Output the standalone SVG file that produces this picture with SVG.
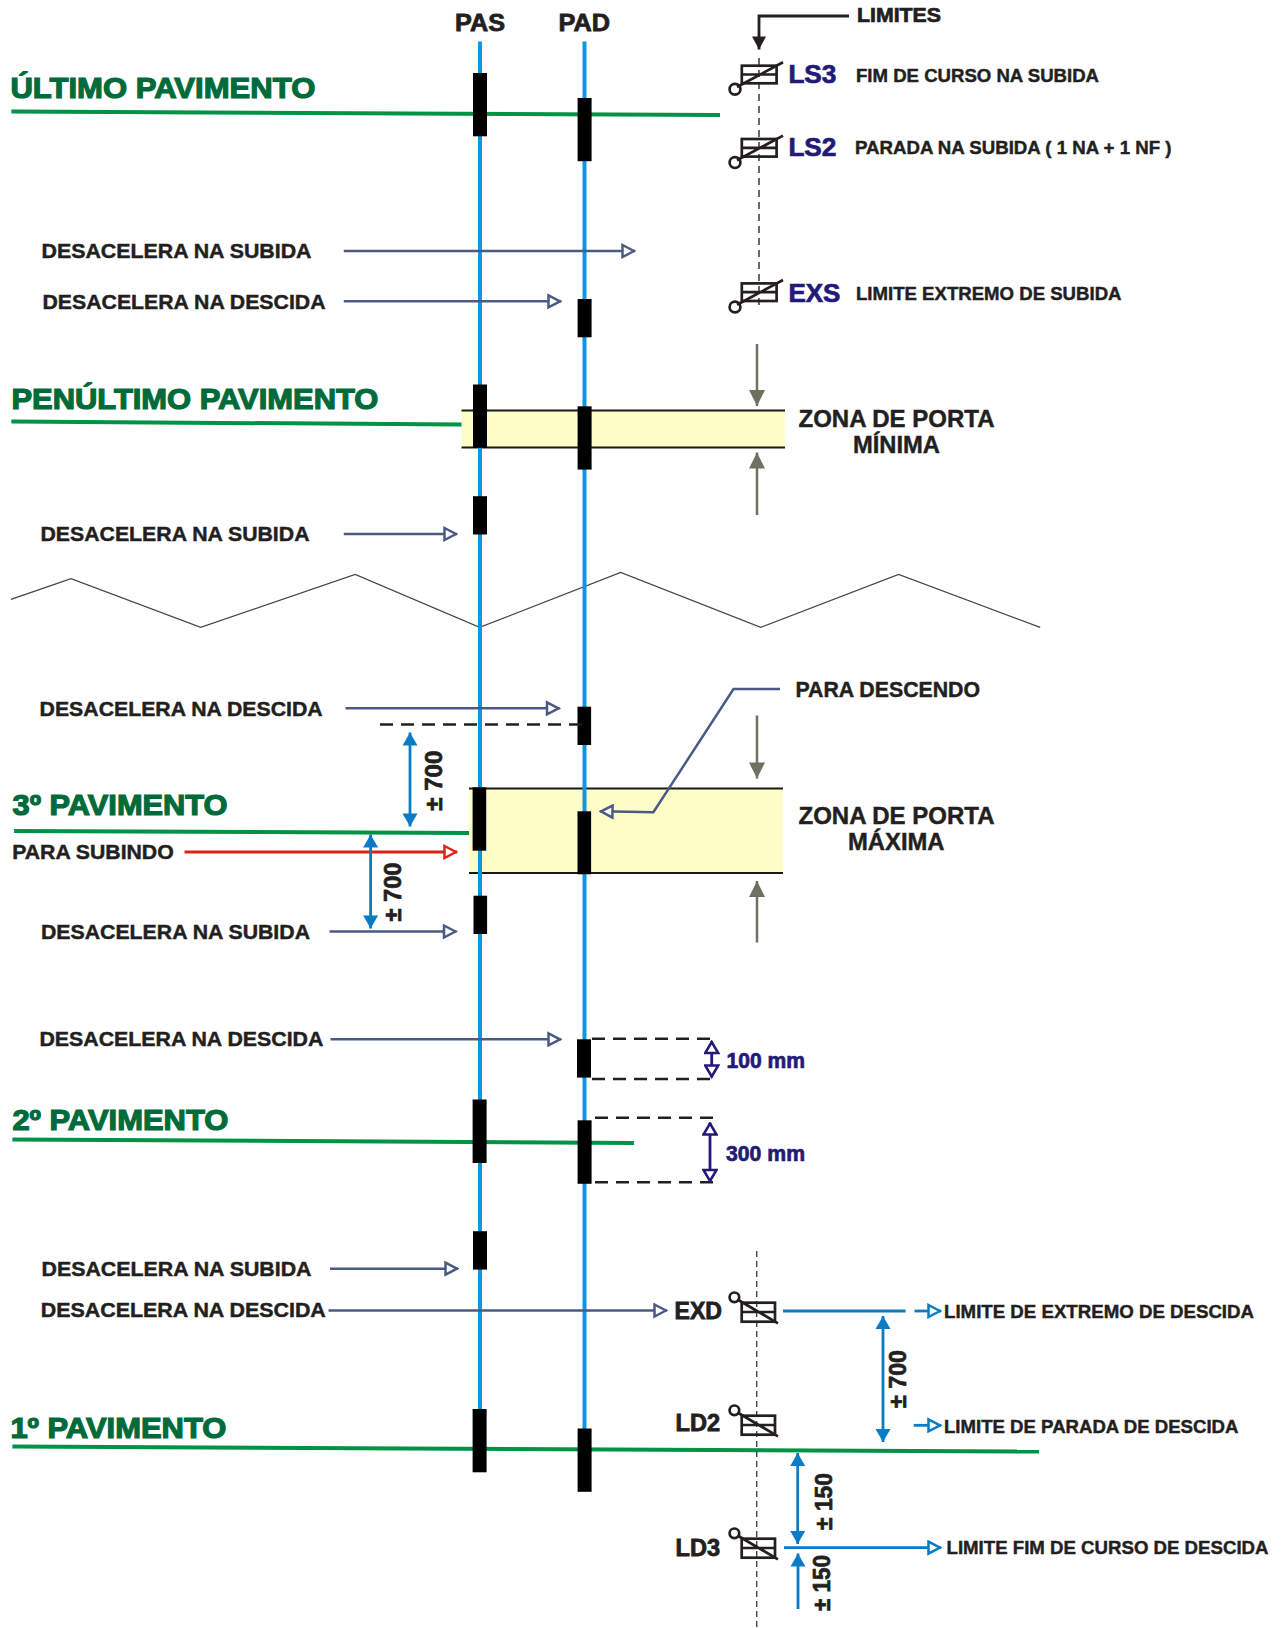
<svg xmlns="http://www.w3.org/2000/svg" width="1286" height="1628" viewBox="0 0 1286 1628">
<style>
text{font-family:"Liberation Sans",Arial,sans-serif;font-weight:700;fill:#231F20;stroke:#231F20;stroke-width:.45}
.g{fill:#006B3A;stroke:#006B3A;stroke-width:1.2;font-size:29px}
.n{fill:#231A78;stroke:#231A78;stroke-width:.7}
.t20{font-size:21px}.t18{font-size:19px}.t23{font-size:24px}
.floor{stroke:#009245;stroke-width:4;fill:none}
.rail{stroke:#0C98E0;stroke-width:4;fill:none}
.bar{fill:#000}
.zone{fill:#FEFDC8}
.zb{stroke:#1A1A1A;stroke-width:2.2;fill:none}
.a{stroke:#4A5A85;stroke-width:2.5;fill:none;marker-end:url(#oGray)}
.r{stroke:#E0201B;stroke-width:2.8;fill:none;marker-end:url(#oRed)}
.b{stroke:#0A7CC4;stroke-width:2.8;fill:none}
.bd{marker-start:url(#fBlueS);marker-end:url(#fBlue)}
.bo{marker-end:url(#oBlue)}
.v{stroke:#6B7260;stroke-width:2.5;fill:none;marker-end:url(#fOlive)}
.d{stroke:#231F20;stroke-width:2.6;stroke-dasharray:13 8;fill:none}
.dv{stroke:#444;stroke-width:1.6;stroke-dasharray:7 5;fill:none}
.nv{stroke:#231A78;stroke-width:2.8;fill:none;marker-start:url(#oNavyS);marker-end:url(#oNavy)}
.sw{stroke:#231F20;stroke-width:2.7;fill:none}
</style>
<defs>
<marker id="oGray" viewBox="0 0 16 16" markerWidth="16" markerHeight="16" refX="15" refY="8" orient="auto" markerUnits="userSpaceOnUse"><path d="M2.5 2L14 8L2.5 14Z" fill="#fff" stroke="#4A5A85" stroke-width="2.5"/></marker>
<marker id="oRed" viewBox="0 0 16 16" markerWidth="16" markerHeight="16" refX="15" refY="8" orient="auto" markerUnits="userSpaceOnUse"><path d="M2.5 2L14 8L2.5 14Z" fill="#fff" stroke="#E0201B" stroke-width="2.5"/></marker>
<marker id="oBlue" viewBox="0 0 16 16" markerWidth="16" markerHeight="16" refX="15" refY="8" orient="auto" markerUnits="userSpaceOnUse"><path d="M2.5 2L14 8L2.5 14Z" fill="#fff" stroke="#0A7CC4" stroke-width="2.5"/></marker>
<marker id="oNavy" viewBox="0 0 16 16" markerWidth="16" markerHeight="16" refX="15" refY="8" orient="auto" markerUnits="userSpaceOnUse"><path d="M3 1.5L14 8L3 14.5Z" fill="#fff" stroke="#231A78" stroke-width="2.5"/></marker>
<marker id="oNavyS" viewBox="0 0 16 16" markerWidth="16" markerHeight="16" refX="1" refY="8" orient="auto" markerUnits="userSpaceOnUse"><path d="M13 1.5L2 8L13 14.5Z" fill="#fff" stroke="#231A78" stroke-width="2.5"/></marker>
<marker id="fBlue" viewBox="0 0 16 16" markerWidth="16" markerHeight="16" refX="14.5" refY="8" orient="auto" markerUnits="userSpaceOnUse"><path d="M1.5 0.5L14.5 8L1.5 15.5Z" fill="#0A7CC4"/></marker>
<marker id="fBlueS" viewBox="0 0 16 16" markerWidth="16" markerHeight="16" refX="1.5" refY="8" orient="auto" markerUnits="userSpaceOnUse"><path d="M14.5 0.5L1.5 8L14.5 15.5Z" fill="#0A7CC4"/></marker>
<marker id="fOlive" viewBox="0 0 18 18" markerWidth="18" markerHeight="18" refX="17" refY="9" orient="auto" markerUnits="userSpaceOnUse"><path d="M1 1L17 9L1 17Z" fill="#6B7260"/></marker>
<marker id="fBlack" viewBox="0 0 16 16" markerWidth="16" markerHeight="16" refX="15" refY="8" orient="auto" markerUnits="userSpaceOnUse"><path d="M2 1L15 8L2 15Z" fill="#231F20"/></marker>
<g id="swUp"><rect class="sw" x="741.8" y="65.7" width="34.8" height="17.6"/><path class="sw" d="M741.8 74.5H776.6M737 87L783 62.3"/><circle class="sw" cx="735" cy="89.3" r="5.4" fill="#fff"/></g>
<g id="swDown"><rect class="sw" x="741.7" y="1302.7" width="33.3" height="19"/><path class="sw" d="M741.7 1312H775M737.5 1299.5L778 1323.3"/><circle class="sw" cx="734.4" cy="1297.3" r="4.8"/></g>
</defs>

<g id="zones">
<rect class="zone" x="461.5" y="410.5" width="323.5" height="37.3"/>
<rect class="zone" x="469" y="788.5" width="314" height="84.5"/>
<path class="zb" d="M461.5 410.5H785M461.5 447.5H785M469 788.5H783M469 873H783"/>
</g>

<g id="zigzag"><polyline points="10.9,599.4 71,578.7 200.7,627.4 355.2,574.5 479.6,627.4 620.7,572.4 760.7,627.4 898.6,574.5 1040.2,627.4" fill="none" stroke="#444" stroke-width="1.2"/></g>

<g id="floors">
<path class="floor" d="M11.4 111.5L720 115"/>
<path class="floor" d="M11.4 421.5L461.5 424.5"/>
<path class="floor" d="M14 831L469 833"/>
<path class="floor" d="M12.4 1139.5L634 1143"/>
<path class="floor" d="M12.4 1446.5L1039 1451.5"/>
</g>

<g id="rails">
<path id="rail-pas" class="rail" d="M480 41.5V1450"/>
<path id="rail-pad" class="rail" d="M584.5 41.5V1470"/>
</g>

<g id="bars-pas">
<rect class="bar" x="473" y="73" width="14" height="63.3"/>
<rect class="bar" x="473" y="384.5" width="14" height="63.3"/>
<rect class="bar" x="473" y="496.2" width="14" height="38.3"/>
<rect class="bar" x="472.6" y="787.3" width="13.6" height="63.4"/>
<rect class="bar" x="473.5" y="895.7" width="13.6" height="38.3"/>
<rect class="bar" x="472.6" y="1099.5" width="14" height="63.5"/>
<rect class="bar" x="473" y="1231.2" width="14" height="38.4"/>
<rect class="bar" x="472.6" y="1409" width="14" height="63.3"/>
</g>
<g id="bars-pad">
<rect class="bar" x="577.6" y="98" width="14" height="63.2"/>
<rect class="bar" x="577.6" y="299" width="14" height="38.3"/>
<rect class="bar" x="577.6" y="406.3" width="14" height="63.3"/>
<rect class="bar" x="577.5" y="706.7" width="13.6" height="38.3"/>
<rect class="bar" x="577.5" y="811.3" width="13.6" height="63"/>
<rect class="bar" x="577" y="1039.3" width="14" height="38.3"/>
<rect class="bar" x="577.6" y="1120.3" width="14" height="63.5"/>
<rect class="bar" x="577.6" y="1428.5" width="14" height="63.3"/>
</g>

<g id="connectors">
<path class="a" d="M343.8 251H635"/>
<path class="a" d="M343.8 301.3H561"/>
<path class="a" d="M343.8 534H457"/>
<path class="a" d="M345.5 708.3H559.5"/>
<path class="a" d="M329.5 931.5H456.5"/>
<path class="a" d="M330.5 1039.3H561"/>
<path class="a" d="M330 1268.7H458"/>
<path class="a" d="M328.5 1310.5H667"/>
<path class="a" d="M780 689H733.5L653.4 812.3L600 811.3"/>
<path class="r" d="M184.5 852H457"/>
<path class="v" d="M757 344V406"/>
<path class="v" d="M757 515V452.5"/>
<path class="v" d="M757 715.5V778.5"/>
<path class="v" d="M757 942.5V881"/>
<path class="d" d="M380 724.5H584"/>
<path class="d" d="M592 1038.7H712M592 1079H711M595 1117.7H715M595 1182.3H714"/>
<path class="nv" d="M711.7 1041V1077.5"/>
<path class="nv" d="M710 1122.5V1182"/>
<path class="b bd" d="M410 732.5V826.5"/>
<path class="b bd" d="M370.6 834.5V928.5"/>
<path class="b bd" d="M883 1316V1442"/>
<path class="b bd" d="M797.7 1453V1544"/>
<path class="b" style="marker-start:url(#fBlueS)" d="M798 1553.5V1609"/>
<path class="b" d="M783 1311H905.6"/>
<path class="b bo" d="M914.5 1311H941"/>
<path class="b bo" d="M913.7 1425.3H941"/>
<path class="b bo" d="M784 1547.7H941"/>
<path d="M849 16H759V49.5" fill="none" stroke="#231F20" stroke-width="2.8" marker-end="url(#fBlack)"/>
<path class="dv" d="M759 58V310"/>
<path class="dv" style="stroke-dasharray:6 4;stroke-width:1.4" d="M756.7 1251V1628"/>
</g>

<g id="switches">
<use id="ls3" href="#swUp"/>
<use id="ls2" href="#swUp" y="73.3"/>
<use id="exs" href="#swUp" y="217.7"/>
<use id="exd" href="#swDown"/>
<use id="ld2" href="#swDown" y="113"/>
<use id="ld3" href="#swDown" y="236"/>
</g>

<g id="labels-floor">
<text class="g" x="10.4" y="98" textLength="305" lengthAdjust="spacingAndGlyphs">ÚLTIMO PAVIMENTO</text>
<text class="g" x="11.4" y="409" textLength="367" lengthAdjust="spacingAndGlyphs">PENÚLTIMO PAVIMENTO</text>
<text class="g" x="12.6" y="815" textLength="215" lengthAdjust="spacingAndGlyphs">3º PAVIMENTO</text>
<text class="g" x="12.4" y="1130" textLength="216" lengthAdjust="spacingAndGlyphs">2º PAVIMENTO</text>
<text class="g" x="10.4" y="1437.5" textLength="216" lengthAdjust="spacingAndGlyphs">1º PAVIMENTO</text>
</g>

<g id="labels-top">
<text class="t23" style="stroke-width:.8" x="455" y="30.5" textLength="50" lengthAdjust="spacingAndGlyphs">PAS</text>
<text class="t23" style="stroke-width:.8" x="558.5" y="30.5" textLength="51.5" lengthAdjust="spacingAndGlyphs">PAD</text>
<text style="stroke-width:.7" x="857" y="22" font-size="20" textLength="84" lengthAdjust="spacingAndGlyphs">LIMITES</text>
<text class="n" x="788.4" y="83" font-size="25" textLength="48" lengthAdjust="spacingAndGlyphs">LS3</text>
<text class="n" x="788.4" y="156" font-size="25" textLength="48" lengthAdjust="spacingAndGlyphs">LS2</text>
<text class="n" x="788.4" y="301.8" font-size="25" textLength="52" lengthAdjust="spacingAndGlyphs">EXS</text>
<text class="t18" x="856" y="82" textLength="243" lengthAdjust="spacingAndGlyphs">FIM DE CURSO NA SUBIDA</text>
<text class="t18" x="855" y="154.3" textLength="316.5" lengthAdjust="spacingAndGlyphs">PARADA NA SUBIDA ( 1 NA + 1 NF )</text>
<text class="t18" x="856" y="300" textLength="265.5" lengthAdjust="spacingAndGlyphs">LIMITE EXTREMO DE SUBIDA</text>
</g>

<g id="labels-left">
<text class="t20" x="41.5" y="257.5" textLength="270" lengthAdjust="spacingAndGlyphs">DESACELERA NA SUBIDA</text>
<text class="t20" x="42.5" y="309.3" textLength="283" lengthAdjust="spacingAndGlyphs">DESACELERA NA DESCIDA</text>
<text class="t20" x="40.5" y="541" textLength="269" lengthAdjust="spacingAndGlyphs">DESACELERA NA SUBIDA</text>
<text class="t20" x="39.6" y="715.8" textLength="283" lengthAdjust="spacingAndGlyphs">DESACELERA NA DESCIDA</text>
<text class="t20" x="12.2" y="858.7" textLength="161.5" lengthAdjust="spacingAndGlyphs">PARA SUBINDO</text>
<text class="t20" x="41" y="938.8" textLength="269" lengthAdjust="spacingAndGlyphs">DESACELERA NA SUBIDA</text>
<text class="t20" x="39.4" y="1046.3" textLength="284" lengthAdjust="spacingAndGlyphs">DESACELERA NA DESCIDA</text>
<text class="t20" x="41.5" y="1275.5" textLength="270" lengthAdjust="spacingAndGlyphs">DESACELERA NA SUBIDA</text>
<text class="t20" x="40.8" y="1316.5" textLength="285" lengthAdjust="spacingAndGlyphs">DESACELERA NA DESCIDA</text>
</g>

<g id="labels-zone">
<text class="t23" x="798.5" y="426.5" textLength="196" lengthAdjust="spacingAndGlyphs">ZONA DE PORTA</text>
<text class="t23" x="853" y="452.5" textLength="87" lengthAdjust="spacingAndGlyphs">MÍNIMA</text>
<text class="t23" x="798.5" y="823.5" textLength="196" lengthAdjust="spacingAndGlyphs">ZONA DE PORTA</text>
<text class="t23" x="848" y="849.5" textLength="96.5" lengthAdjust="spacingAndGlyphs">MÁXIMA</text>
<text x="795.5" y="697" font-size="22" textLength="184.5" lengthAdjust="spacingAndGlyphs">PARA DESCENDO</text>
</g>

<g id="labels-dim">
<text class="n" x="726.5" y="1068" font-size="22" textLength="78.5" lengthAdjust="spacingAndGlyphs">100 mm</text>
<text class="n" x="726" y="1160.7" font-size="22" textLength="79" lengthAdjust="spacingAndGlyphs">300 mm</text>
<text style="stroke-width:.7" font-size="24" transform="rotate(-90 442.5 810.7)" x="442.5" y="810.7" textLength="60" lengthAdjust="spacingAndGlyphs">± 700</text>
<text style="stroke-width:.7" font-size="24" transform="rotate(-90 400.5 921.5)" x="400.5" y="921.5" textLength="59" lengthAdjust="spacingAndGlyphs">± 700</text>
<text style="stroke-width:.7" font-size="24" transform="rotate(-90 905.8 1408)" x="905.8" y="1408" textLength="58" lengthAdjust="spacingAndGlyphs">± 700</text>
<text style="stroke-width:.7" font-size="24" transform="rotate(-90 831.6 1530)" x="831.6" y="1530" textLength="57" lengthAdjust="spacingAndGlyphs">± 150</text>
<text style="stroke-width:.7" font-size="24" transform="rotate(-90 829.5 1611)" x="829.5" y="1611" textLength="56" lengthAdjust="spacingAndGlyphs">± 150</text>
</g>

<g id="labels-bottom">
<text style="stroke-width:.8" font-size="23" x="674.5" y="1319.3" textLength="47.5" lengthAdjust="spacingAndGlyphs">EXD</text>
<text style="stroke-width:.8" font-size="23" x="675.5" y="1431" textLength="44.5" lengthAdjust="spacingAndGlyphs">LD2</text>
<text style="stroke-width:.8" font-size="23" x="675.5" y="1555.7" textLength="44.5" lengthAdjust="spacingAndGlyphs">LD3</text>
<text class="t18" x="944" y="1317.7" textLength="310" lengthAdjust="spacingAndGlyphs">LIMITE DE EXTREMO DE DESCIDA</text>
<text class="t18" x="944" y="1432.7" textLength="294.5" lengthAdjust="spacingAndGlyphs">LIMITE DE PARADA DE DESCIDA</text>
<text class="t18" x="946.5" y="1554.3" textLength="322" lengthAdjust="spacingAndGlyphs">LIMITE FIM DE CURSO DE DESCIDA</text>
</g>
</svg>
